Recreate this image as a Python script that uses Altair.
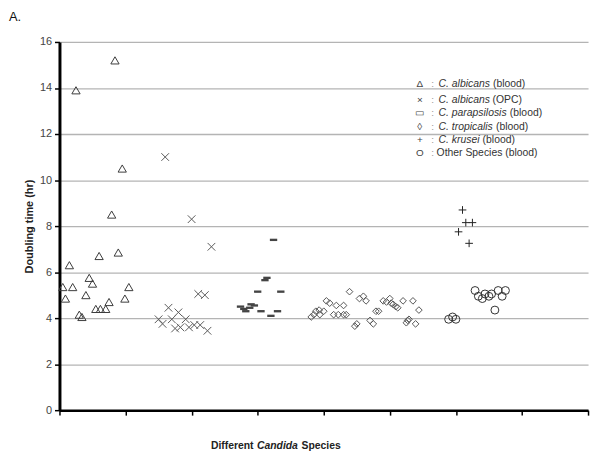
import altair as alt
import pandas as pd

# ---------------- data ----------------
alb_blood_x = [0.5, 0.9, 1.5, 2.0, 2.5, 3.0, 3.4, 4.0, 4.5, 5.0, 5.5, 6.0, 6.2, 7.0, 7.5, 7.9, 8.4, 8.9, 9.5, 9.9, 10.5]
alb_blood_y = [5.35, 4.85, 6.3, 5.35, 13.9, 4.15, 4.05, 5.0, 5.75, 5.5, 4.4, 6.7, 4.4, 4.4, 4.7, 8.5, 15.2, 6.85, 10.5, 4.85, 5.35]

alb_opc_x = [15.0, 15.6, 16.0, 16.5, 17.0, 17.5, 18.0, 18.3, 19.1, 19.6, 20.0, 20.4, 21.0, 21.3, 22.0, 22.4, 23.0]
alb_opc_y = [3.95, 3.75, 11.0, 4.45, 3.95, 3.55, 4.25, 3.6, 3.95, 3.6, 8.3, 3.7, 5.05, 3.7, 5.0, 3.45, 7.1]

para_x = [27.4, 27.9, 28.2, 28.8, 29.0, 29.5, 30.0, 30.5, 31.1, 31.4, 32.0, 32.4, 33.0, 33.5]
para_y = [4.5, 4.4, 4.3, 4.45, 4.6, 4.55, 5.15, 4.3, 5.65, 5.75, 4.1, 7.4, 4.3, 5.15]

trop_x = [38.1, 38.5, 38.8, 39.3, 39.4, 40.0, 40.4, 40.9, 41.5, 41.9, 42.2, 43.0, 43.0, 43.4, 43.9,
          44.7, 45.0, 45.4, 46.0, 46.4, 47.0, 47.5, 47.9, 48.3, 49.0, 49.5, 50.0, 50.2, 50.5, 50.9,
          51.2, 52.0, 52.5, 52.7, 52.9, 53.5, 53.9, 54.4]
trop_y = [4.05, 4.15, 4.3, 4.35, 4.15, 4.3, 4.75, 4.65, 4.15, 4.55, 4.15, 4.55, 4.15, 4.15, 5.15,
          3.65, 3.75, 4.85, 4.95, 4.75, 3.9, 3.75, 4.3, 4.3, 4.75, 4.7, 4.85, 4.65, 4.6, 4.5,
          4.45, 4.75, 3.8, 3.9, 3.95, 4.75, 3.75, 4.35]

krusei_x = [60.4, 61.0, 61.5, 62.0, 62.5]
krusei_y = [7.75, 8.7, 8.15, 7.25, 8.15]

other_x = [58.9, 59.5, 60.0, 62.9, 63.4, 64.0, 64.4, 65.0, 65.4, 65.9, 66.4, 67.0, 67.5]
other_y = [3.95, 4.05, 3.95, 5.2, 4.95, 4.85, 5.05, 4.95, 5.05, 4.35, 5.2, 4.95, 5.2]

y_ticks = [0, 2, 4, 6, 8, 10, 12, 14, 16]
x_ticks = [0, 10, 20, 30, 40, 50, 60, 70, 80]

legend_symbols = ["Δ", "×", "▭", "◊", "+", "O"]
legend_species = ["C. albicans", "C. albicans", "C. parapsilosis", "C. tropicalis", "C. krusei", ""]
legend_suffix = ["(blood)", "(OPC)", "(blood)", "(blood)", "(blood)", "Other Species (blood)"]

panel_label = "A."
x_title_parts = ["Different", "Candida", "Species"]
y_title = "Doubling time (hr)"

# ---------------- chart ----------------
FONT = "Liberation Sans"
W, H = 534, 372

xscale = alt.Scale(domain=[0, 80], nice=False, zero=False)
yscale = alt.Scale(domain=[0, 16], nice=False)

xaxis = alt.Axis(values=x_ticks, labels=False, title=None, grid=False,
                 domainColor="black", domainWidth=2.5, tickColor="black",
                 tickSize=5, tickWidth=1.5)
yaxis = alt.Axis(values=y_ticks, grid=True, gridColor="#b4b4b4", gridWidth=1.3,
                 domainColor="black", domainWidth=3, tickColor="black", tickSize=5,
                 tickWidth=1.5, labelFont=FONT, labelFontSize=11, labelColor="#444",
                 labelPadding=3, title=y_title, titleFont=FONT, titleFontSize=11,
                 titleFontWeight="bold", titleColor="#222", titlePadding=5)

X_PATH = "M-1,-1L1,1M-1,1L1,-1"
DASH_PATH = "M-1,-0.32H1V0.32H-1Z"
PLUS_PATH = "M-1,0H1M0,-1V1"

series = [
    ("C. albicans (blood)", alb_blood_x, alb_blood_y, "triangle-up", 70, False, "#3c3c3c"),
    ("C. albicans (OPC)", alb_opc_x, alb_opc_y, X_PATH, 60, False, "#5a5a5a"),
    ("C. parapsilosis (blood)", para_x, para_y, DASH_PATH, 55, True, "#444444"),
    ("C. tropicalis (blood)", trop_x, trop_y, "diamond", 45, False, "#555555"),
    ("C. krusei (blood)", krusei_x, krusei_y, PLUS_PATH, 60, False, "#222222"),
    ("Other Species (blood)", other_x, other_y, "circle", 64, False, "#333333"),
]

layers = []
for name, xs, ys, shape, size, filled, color in series:
    df = pd.DataFrame({"x": xs, "y": ys, "group": [name] * len(xs)})
    layers.append(
        alt.Chart(df).mark_point(shape=shape, size=size, filled=filled, color=color,
                                 strokeWidth=1, opacity=1)
        .encode(x=alt.X("x:Q", scale=xscale, axis=xaxis),
                y=alt.Y("y:Q", scale=yscale, axis=yaxis))
    )


def text_layer(txt, x, y, size=10.5, weight="normal", style="normal", color="#333",
               align="left", baseline="middle"):
    return alt.Chart(pd.DataFrame({"t": [txt]})).mark_text(
        font=FONT, fontSize=size, fontWeight=weight, fontStyle=style, color=color,
        align=align, baseline=baseline
    ).encode(text="t:N", x=alt.value(x), y=alt.value(y))


# legend (custom, to mix italic and regular text)
row_y = [43, 59, 72, 86, 99, 112]
suffix_x = [438, 437.5, 455, 441, 427.5, 381]
for i in range(6):
    layers.append(text_layer(legend_symbols[i], 364, row_y[i], size=10, color="#444", align="center"))
    layers.append(text_layer(":", 377, row_y[i], size=10, color="#999", align="center"))
    if legend_species[i]:
        layers.append(text_layer(legend_species[i], 383, row_y[i], style="italic", color="#333"))
    layers.append(text_layer(legend_suffix[i], suffix_x[i], row_y[i], color="#333"))

# x title pieces
layers.append(text_layer(x_title_parts[0], 153, 408, weight="bold", color="#222"))
layers.append(text_layer(x_title_parts[1], 199.5, 408, weight="bold", style="italic", color="#222"))
layers.append(text_layer(x_title_parts[2], 244.5, 408, weight="bold", color="#222"))

# panel label
layers.append(text_layer(panel_label, -51, -31, size=13, color="#111", baseline="top"))

chart = alt.layer(*layers).properties(
    width=W, height=H,
    autosize=alt.AutoSizeParams(type="none"),
    padding={"left": 52, "top": 32, "right": 4, "bottom": 46},
    background="white",
).configure_view(strokeWidth=0)

chart.save("out.html", embed_options={"renderer": "svg", "actions": False})
